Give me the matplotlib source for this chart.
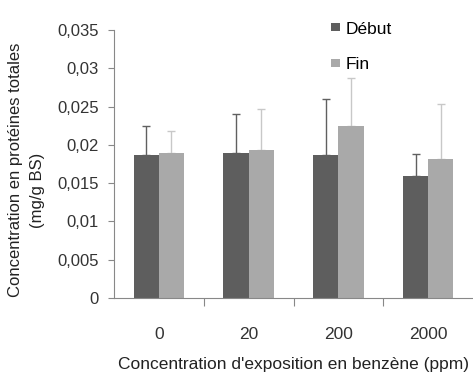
import numpy as np
import matplotlib.pyplot as plt

plt.rcParams['font.family'] = ['Liberation Sans', 'DejaVu Sans']

# Data
categories = ["0", "20", "200", "2000"]
debut = [0.0187, 0.0189, 0.0187, 0.0159]
debut_err = [0.0038, 0.0051, 0.0073, 0.0029]
fin = [0.0189, 0.0193, 0.0225, 0.0181]
fin_err = [0.0029, 0.0054, 0.0062, 0.0072]
y_ticks = [0, 0.005, 0.01, 0.015, 0.02, 0.025, 0.03, 0.035]
y_labels = ["0", "0,005", "0,01", "0,015", "0,02", "0,025", "0,03", "0,035"]

fig = plt.figure(figsize=(4.73, 3.74), dpi=100)
ax = fig.add_axes([114 / 473, 76 / 374, 359 / 473, 268 / 374])

x = np.arange(len(categories))
w = 0.28
ax.bar(x - w / 2, debut, w, color="#5e5e5e", label="Début", zorder=2)
ax.bar(x + w / 2, fin, w, color="#a9a9a9", label="Fin", zorder=2)
ax.errorbar(x - w / 2, debut, yerr=[np.zeros(4), debut_err], fmt="none",
            ecolor="#606060", elinewidth=1, capsize=3, capthick=1, zorder=1)
ax.errorbar(x + w / 2, fin, yerr=[np.zeros(4), fin_err], fmt="none",
            ecolor="#c8c8c8", elinewidth=1, capsize=3, capthick=1, zorder=1)

ax.set_xlim(-0.5, 3.5)
ax.set_ylim(0, 0.035)
ax.set_yticks(y_ticks)
ax.set_yticklabels(y_labels)
ax.set_xticks([0.5, 1.5, 2.5], minor=False)
ax.set_xticklabels([])
ax.set_xticks(x, minor=True)
ax.set_xticklabels(categories, minor=True)
ax.tick_params(axis="x", which="minor", length=0, pad=21, labelsize=12.5, labelcolor="#333333")
ax.tick_params(axis="x", which="major", length=6, color="#888888")
ax.tick_params(axis="y", length=4, pad=7, color="#888888", labelsize=12, labelcolor="#333333")

for s in ["top", "right"]:
    ax.spines[s].set_visible(False)
for s in ["left", "bottom"]:
    ax.spines[s].set_color("#888888")

ax.set_xlabel("Concentration d'exposition en benzène (ppm)", fontsize=12.5,
              color="#222222", labelpad=11)
fig.text(0.032, 0.545, "Concentration en protéines totales", rotation=90,
         ha="center", va="center", fontsize=12, color="#222222")
fig.text(0.08, 0.49, "(mg/g BS)", rotation=90,
         ha="center", va="center", fontsize=12, color="#222222")

ax.legend(loc="upper left", bbox_to_anchor=(0.56, 1.09), frameon=False,
          handlelength=0.55, handleheight=0.3, handletextpad=0.3,
          labelspacing=1.2, fontsize=12.5)

fig.savefig("out.png")
